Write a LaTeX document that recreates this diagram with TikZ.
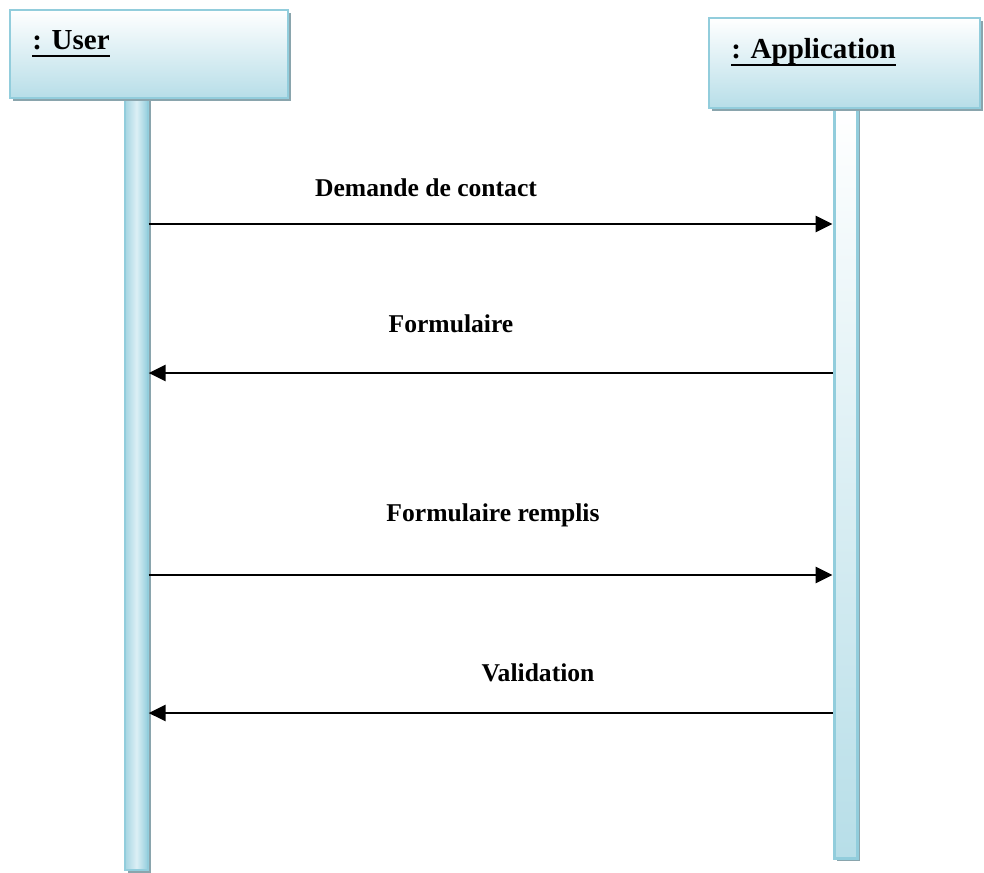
\documentclass[tikz,border=0pt]{standalone}
\usepackage{fontspec}
\setmainfont{Liberation Serif}
\usetikzlibrary{positioning}
\usetikzlibrary{shadows}
\usetikzlibrary{arrows.meta}

\definecolor{boxedge}{HTML}{92CDDC}
\definecolor{boxfill}{HTML}{B7DEE8}
\definecolor{lifefill}{HTML}{A5D5E2}
\definecolor{lifelight}{HTML}{DCEFF5}
\definecolor{shadowgray}{HTML}{8AA5AD}

\newcommand{\objtitle}[1]{\sbox0{#1}\rlap{\usebox0}\rule[-3.6pt]{\wd0}{1.2pt}}

\begin{document}
\begin{tikzpicture}[
	x=0.5pt, y=-0.5pt,
	font=\bfseries
]
\tikzset{
    objbox/.style = {rectangle, draw=boxedge, line width=1pt, top color=white, bottom color=boxfill,
                     drop shadow={shadow xshift=1.5pt, shadow yshift=-1.5pt, fill=shadowgray, opacity=1}},
    userline/.style = {rectangle, draw=boxedge, line width=0.6pt, minimum width=11.5pt,
                     left color=lifefill, right color=boxedge, middle color=lifelight,
                     drop shadow={shadow xshift=1.5pt, shadow yshift=-1.5pt, fill=shadowgray, opacity=1}},
    appline/.style = {rectangle, draw=boxedge, line width=1.5pt, minimum width=11.5pt,
                     top color=white, bottom color=boxfill,
                     drop shadow={shadow xshift=1.5pt, shadow yshift=-1.5pt, fill=shadowgray, opacity=1}},
    objname/.style = {anchor=base west, inner sep=0pt, font=\bfseries\fontsize{14.5}{17}\selectfont},
    msglabel/.style = {inner sep=0pt, font=\bfseries\fontsize{12.8}{15}\selectfont},
    msg/.style = {line width=1.4pt, -{Triangle[length=8.5pt,width=8pt]}}
}
\useasboundingbox (0,0) rectangle (984,872);
% lifelines
\node[userline, minimum height=386pt] at (136.5,484) (ul) {};
\node[appline, minimum height=375pt] at (845.5,483) (al) {};
% objects
\node[objbox, minimum width=139pt, minimum height=44pt] at (149,54) (user) {};
\node[objbox, minimum width=135.5pt, minimum height=45pt] at (844.5,63) (app) {};
\node[objname] at (32,50) (usern) {\objtitle{: User}};
\node[objname] at (731,59) (appn) {\objtitle{: Application}};
%
\coordinate (u1) at (ul.east |- 0,224);
\coordinate (a1) at (al.west |- 0,224);
\coordinate (u2) at (ul.east |- 0,373);
\coordinate (a2) at (al.west |- 0,373);
\coordinate (u3) at (ul.east |- 0,575);
\coordinate (a3) at (al.west |- 0,575);
\coordinate (u4) at (ul.east |- 0,713);
\coordinate (a4) at (al.west |- 0,713);
%
\draw[msg] (u1) -- (a1);
\draw[msg] (a2) -- (u2);
\draw[msg] (u3) -- (a3);
\draw[msg] (a4) -- (u4);
%
\node[msglabel] at (426,188) (m1) {Demande de contact};
\node[msglabel] at (451,324) (m2) {Formulaire};
\node[msglabel] at (493,515) (m3) {Formulaire remplis};
\node[msglabel] at (538,673) (m4) {Validation};
\end{tikzpicture}
\end{document}
